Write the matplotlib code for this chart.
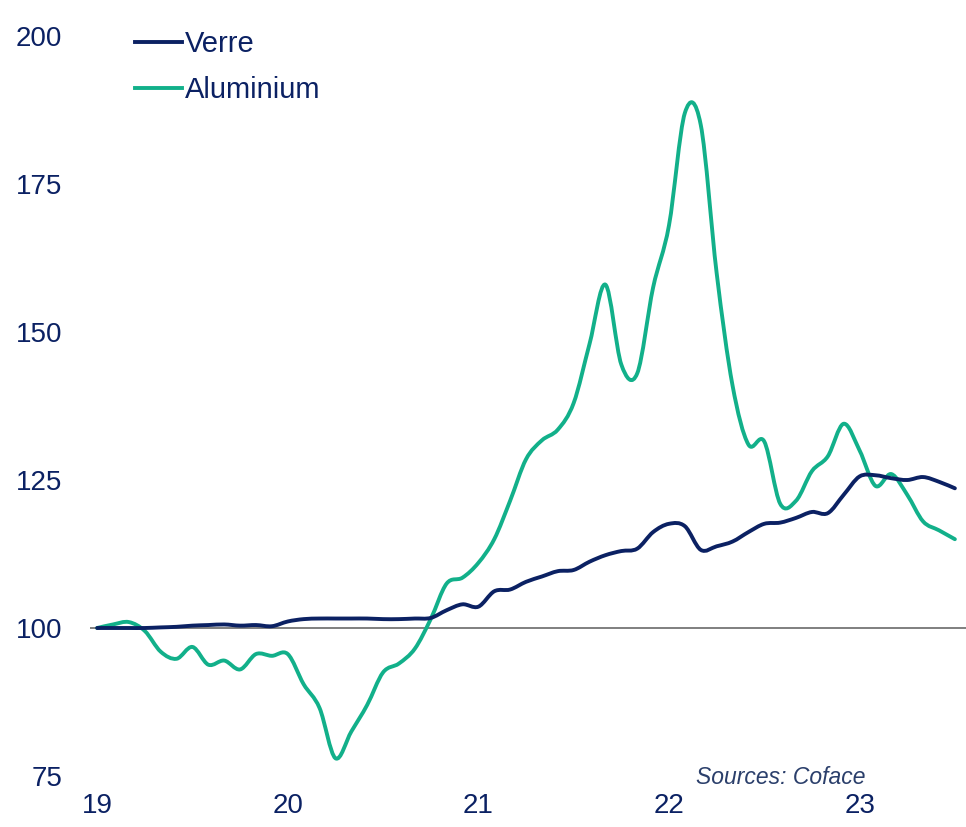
import numpy as np
import matplotlib.pyplot as plt
from matplotlib.path import Path
from matplotlib.patches import PathPatch
from matplotlib.lines import Line2D

plt.rcParams['font.family'] = ['Liberation Sans', 'DejaVu Sans']

# monthly index, 0 = Jan 2019
months = np.arange(55)

verre = [100.0, 100.0, 100.0, 100.0, 100.1, 100.2, 100.4, 100.5, 100.6, 100.4,
         100.5, 100.3, 101.1, 101.5, 101.6, 101.6, 101.6, 101.6, 101.5, 101.5,
         101.6, 101.7, 103.0, 104.0, 103.6, 106.2, 106.5, 107.8, 108.7, 109.6,
         109.8, 111.2, 112.3, 113.0, 113.4, 116.2, 117.6, 117.2, 113.2, 113.8,
         114.6, 116.2, 117.6, 117.8, 118.6, 119.6, 119.4, 122.5, 125.6, 125.8,
         125.3, 125.0, 125.5, 124.7, 123.6]

aluminium = [100.0, 100.6, 101.0, 99.5, 96.0, 94.8, 96.8, 93.8, 94.5, 93.0,
             95.6, 95.3, 95.6, 90.5, 86.5, 78.0, 82.5, 87.0, 92.5, 94.0,
             96.5, 101.5, 107.5, 108.5, 111.0, 115.0, 121.5, 128.5, 131.7, 133.5,
             138.0, 148.0, 158.0, 144.5, 143.0, 157.5, 168.0, 187.0, 185.0, 160.0,
             141.0, 131.0, 131.5, 121.0, 121.5, 126.5, 129.0, 134.5, 130.0, 124.0,
             126.0, 122.5, 118.0, 116.5, 115.0]

year_ticks = [0, 12, 24, 36, 48]
year_labels = ['19', '20', '21', '22', '23']
y_ticks = [75, 100, 125, 150, 175, 200]

navy = '#0B2163'
teal = '#12B08A'


def smooth_path(x, y):
    # Excel-style smoothed line: cubic Bezier through every data point
    p = np.column_stack([x, y]).astype(float)
    verts = [p[0]]
    codes = [Path.MOVETO]
    n = len(p)
    for i in range(n - 1):
        p0 = p[i - 1] if i > 0 else p[i]
        p3 = p[i + 2] if i + 2 < n else p[i + 1]
        c1 = p[i] + (p[i + 1] - p0) / 6
        c2 = p[i + 1] - (p3 - p[i]) / 6
        verts += [c1, c2, p[i + 1]]
        codes += [Path.CURVE4] * 3
    return Path(verts, codes)


fig = plt.figure(figsize=(9.66, 8.27), dpi=100)
ax = fig.add_axes([90 / 966, 1 - 776 / 827, 1 - 90 / 966, (776 - 36) / 827])

ax.axhline(100, color='#7f7f7f', lw=1.4, zorder=1)
for vals, col, z in [(aluminium, teal, 2), (verre, navy, 3)]:
    ax.add_patch(PathPatch(smooth_path(months, vals), facecolor='none', edgecolor=col,
                           lw=2.8, zorder=z, joinstyle='round', capstyle='round'))

ax.set_xlim(-0.45, 54.7)
ax.set_ylim(75, 200)
ax.set_xticks(year_ticks)
ax.set_xticklabels(year_labels)
ax.set_yticks(y_ticks)
ax.tick_params(axis='both', length=0, labelsize=20, labelcolor=navy)
ax.tick_params(axis='y', pad=20)
ax.tick_params(axis='x', pad=12)
for s in ax.spines.values():
    s.set_visible(False)

handles = [Line2D([], [], color=navy, lw=2.8), Line2D([], [], color=teal, lw=2.8)]
leg = fig.legend(handles, ['Verre', 'Aluminium'], loc='upper left',
                 bbox_to_anchor=(135 / 966, 1 - 30 / 827), bbox_transform=fig.transFigure,
                 frameon=False, fontsize=21, handlelength=1.6, handletextpad=0.12,
                 labelspacing=0.62, borderpad=0, borderaxespad=0)
for t in leg.get_texts():
    t.set_color(navy)

fig.text(865 / 966, 1 - 777 / 827, 'Sources: Coface', ha='right', va='center',
         fontsize=16.5, style='italic', color='#2B3F6B')

fig.savefig('out.png', dpi=100)
